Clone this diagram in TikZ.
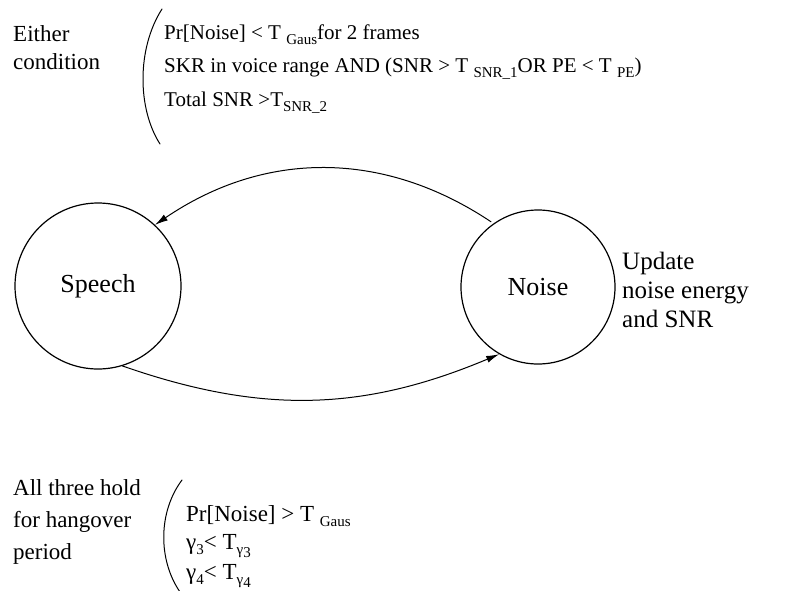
\documentclass[tikz,border=0pt]{standalone}
\usepackage{fontspec}
\setmainfont{Liberation Serif}
\usetikzlibrary{arrows.meta}
\newcommand{\lowsub}[1]{\raisebox{-0.5ex}{\fontsize{15}{15}\selectfont #1}}
\begin{document}
\begin{tikzpicture}[x=1pt,y=-1pt,font=\fontsize{21}{28}\selectfont,line cap=round,line join=round,>={Latex[length=13pt,width=7pt]},
    state/.style={circle,draw,line width=1.2pt,inner sep=0pt,font=\fontsize{26}{30}\selectfont},
    txt/.style={anchor=west,inner sep=0pt,align=left},
    big/.style={font=\fontsize{23}{31}\selectfont}]
	\useasboundingbox (0,0) rectangle (807,590);
	% the two states
	\node[state,minimum size=166pt] (speech) at (98,286) {Speech};
	\node[state,minimum size=154pt] (noise) at (538,287) {Noise};
	\draw[->,line width=1pt,shorten <=3pt] (noise.125) to[bend right=34] (speech.47);
	\draw[->,line width=1pt] (speech.-73) to[bend right=21] (noise.-120);
	% conditions speech -> noise ... noise -> speech
	\node[txt,big,font=\fontsize{23}{28}\selectfont] (either) at (13,48) {Either\\condition};
	\draw[line width=1pt] (162,9) .. controls (137,48) and (137,108) .. (160,144);
	\node[txt] (c1) at (164,35) {Pr[Noise] < T \lowsub{Gaus}for 2 frames};
	\node[txt] (c2) at (164,69) {SKR in voice range AND (SNR > T \lowsub{SNR\_1}OR PE < T \lowsub{PE})};
	\node[txt] (c3) at (164,103) {Total SNR >T\lowsub{SNR\_2}};
	\node[txt,big,font=\fontsize{25}{29}\selectfont] (update) at (622,290) {Update\\noise energy\\and SNR};
	\node[txt,big,font=\fontsize{23}{32}\selectfont] (hold) at (13,522) {All three hold\\for hangover\\period};
	\draw[line width=1pt] (182,480) .. controls (158,512) and (158,560) .. (180,592);
	\node[txt,big] (h1) at (186,516) {Pr[Noise] > T \lowsub{Gaus}};
	\node[txt,big] (h2) at (186,546) {γ\lowsub{3}< T\lowsub{γ\lowsub{3}}};
	\node[txt,big] (h3) at (186,576) {γ\lowsub{4}< T\lowsub{γ\lowsub{4}}};
\end{tikzpicture}
\end{document}
